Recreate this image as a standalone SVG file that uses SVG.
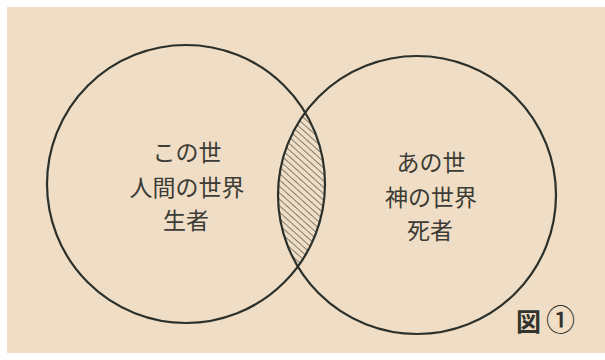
<svg xmlns="http://www.w3.org/2000/svg" width="605" height="360" viewBox="0 0 605 360">
  <defs>
    <style>
      .ring { fill: none; stroke: #2b302b; stroke-width: 2.2; }
      .lbl { font-family: "Noto Sans CJK JP", "Noto Sans", sans-serif; font-size: 23px; fill: #3c3b36; text-anchor: middle; }
      .fig { font-family: "Noto Sans CJK JP", "Noto Sans", sans-serif; fill: #33332e; }
    </style>
    <pattern id="hatch" patternUnits="userSpaceOnUse" width="4.8" height="4.8" patternTransform="rotate(-48)">
      <line x1="0" y1="0" x2="0" y2="4.8" stroke="#3a3d36" stroke-width="1.2"/>
    </pattern>
    <clipPath id="leftClip">
      <circle cx="186" cy="184" r="139"/>
    </clipPath>
  </defs>
  <rect x="0" y="0" width="605" height="360" fill="#ffffff"/>
  <rect x="7" y="7" width="598" height="346" fill="#efdec5"/>
  <g id="intersection">
    <circle cx="417" cy="195" r="139" fill="url(#hatch)" clip-path="url(#leftClip)"/>
  </g>
  <g id="this-world">
    <circle class="ring" cx="186" cy="184" r="139"/>
    <text class="lbl" x="187" y="161">この世</text>
    <text class="lbl" x="187" y="196">人間の世界</text>
    <text class="lbl" x="186" y="229">生者</text>
  </g>
  <g id="other-world">
    <circle class="ring" cx="417" cy="195" r="139"/>
    <text class="lbl" x="431" y="171">あの世</text>
    <text class="lbl" x="431" y="206">神の世界</text>
    <text class="lbl" x="430" y="239">死者</text>
  </g>
  <g id="connectors"/>
  <g id="caption">
    <text class="fig" x="516" y="331" font-size="25" font-weight="bold">図<tspan dx="5" font-size="29" font-weight="500">①</tspan></text>
  </g>
</svg>
